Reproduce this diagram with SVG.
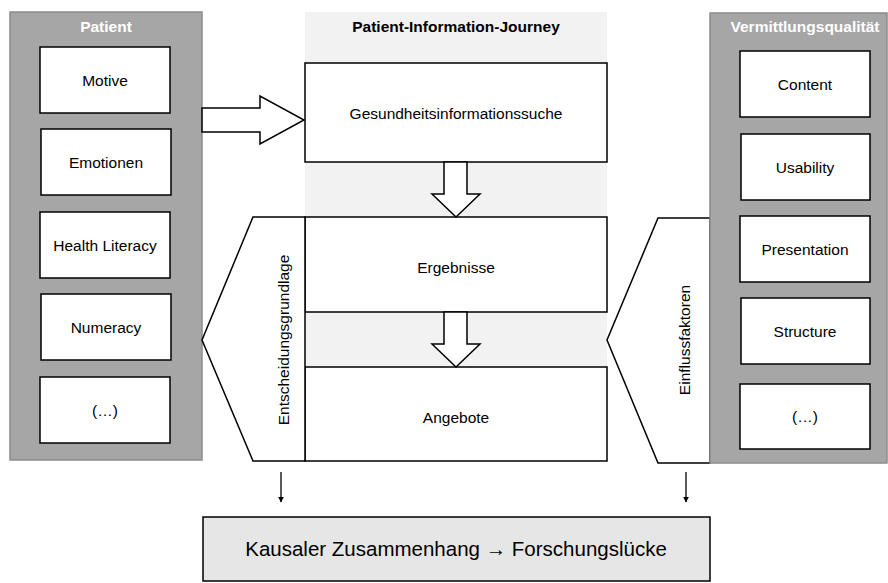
<svg xmlns="http://www.w3.org/2000/svg" width="888" height="583" viewBox="0 0 888 583">
  <defs>
    <style>
      .panel { fill: #a6a6a6; stroke: #8c8c8c; stroke-width: 1.5; }
      .box { fill: #ffffff; stroke: #000000; stroke-width: 1.5; }
      .band { fill: #f2f2f2; }
      .label { font-family: "Liberation Sans", Arial, sans-serif; font-size: 15.5px; fill: #000; text-anchor: middle; }
      .title { font-family: "Liberation Sans", Arial, sans-serif; font-size: 15.5px; font-weight: bold; text-anchor: middle; }
      .big { font-family: "Liberation Sans", Arial, sans-serif; font-size: 20.5px; fill: #000; text-anchor: middle; }
      .conn { fill: none; stroke: #000; stroke-width: 1.3; }
      .blockarrow { fill: #ffffff; stroke: #000; stroke-width: 1.5; stroke-linejoin: miter; }
    </style>
    <marker id="tip" viewBox="0 0 10 10" refX="9" refY="5" markerWidth="6" markerHeight="6" orient="auto" markerUnits="userSpaceOnUse">
      <path d="M0,0 L10,5 L0,10 z" fill="#000"/>
    </marker>
  </defs>

  <!-- background band behind the journey column -->
  <rect class="band" x="305" y="12" width="302" height="449"/>

  <!-- patient panel -->
  <g id="patient">
    <rect class="panel" x="10" y="12" width="192" height="448"/>
    <text class="title" x="106" y="32" fill="#ffffff">Patient</text>
    <g id="motive"><rect class="box" x="40" y="47" width="130" height="66"/><text class="label" x="105" y="86">Motive</text></g>
    <g id="emotionen"><rect class="box" x="41" y="129" width="130" height="66"/><text class="label" x="106" y="168">Emotionen</text></g>
    <g id="health-literacy"><rect class="box" x="40" y="212" width="130" height="66"/><text class="label" x="105" y="251">Health Literacy</text></g>
    <g id="numeracy"><rect class="box" x="41" y="294" width="130" height="66"/><text class="label" x="106" y="333">Numeracy</text></g>
    <g id="patient-more"><rect class="box" x="40" y="377" width="130" height="66"/><text class="label" x="105" y="416">(…)</text></g>
  </g>

  <!-- journey column -->
  <g id="journey">
    <text class="title" x="456" y="32" fill="#000000">Patient-Information-Journey</text>
    <g id="suche"><rect class="box" x="305" y="63" width="302" height="99"/><text class="label" x="456" y="119">Gesundheitsinformationssuche</text></g>
    <g id="ergebnisse"><rect class="box" x="305" y="217" width="302" height="95"/><text class="label" x="456" y="273">Ergebnisse</text></g>
    <g id="angebote"><rect class="box" x="305" y="367" width="302" height="94"/><text class="label" x="456" y="423">Angebote</text></g>
  </g>

  <!-- left chevron -->
  <g id="entscheidungsgrundlage">
    <polygon class="box" points="253,217 305,217 305,461 253,461 202,340"/>
    <text class="label" transform="translate(289,340) rotate(-90)">Entscheidungsgrundlage</text>
  </g>

  <!-- right chevron -->
  <g id="einflussfaktoren">
    <polygon class="box" points="658,218 710,218 710,463 658,463 607,340"/>
    <text class="label" transform="translate(690,340) rotate(-90)">Einflussfaktoren</text>
  </g>

  <!-- quality panel -->
  <g id="vermittlungsqualitaet">
    <rect class="panel" x="710" y="13" width="177" height="450"/>
    <text class="title" x="805" y="32" fill="#ffffff">Vermittlungsqualität</text>
    <g id="content"><rect class="box" x="740" y="51" width="130" height="66"/><text class="label" x="805" y="90">Content</text></g>
    <g id="usability"><rect class="box" x="741" y="134" width="129" height="66"/><text class="label" x="805" y="173">Usability</text></g>
    <g id="presentation"><rect class="box" x="740" y="216" width="130" height="66"/><text class="label" x="805" y="255">Presentation</text></g>
    <g id="structure"><rect class="box" x="741" y="298" width="129" height="66"/><text class="label" x="805" y="337">Structure</text></g>
    <g id="quality-more"><rect class="box" x="740" y="384" width="130" height="65"/><text class="label" x="805" y="422">(…)</text></g>
  </g>

  <!-- result box -->
  <g id="forschungsluecke">
    <rect x="203" y="517" width="507" height="64" fill="#e7e6e6" stroke="#000" stroke-width="1.5"/>
    <text class="big" x="456" y="556">Kausaler Zusammenhang → Forschungslücke</text>
  </g>

  <!-- connectors -->
  <g id="connectors">
    <polygon class="blockarrow" points="202,108 260,108 260,96 304,120 260,144 260,132 202,132"/>
    <polygon class="blockarrow" points="444,162 467,162 467,194 480,194 456,217 432,194 444,194"/>
    <polygon class="blockarrow" points="444,312 467,312 467,344 480,344 456,367 432,344 444,344"/>
    <line class="conn" x1="281" y1="472" x2="281" y2="502" marker-end="url(#tip)"/>
    <line class="conn" x1="686" y1="472" x2="686" y2="502" marker-end="url(#tip)"/>
  </g>
</svg>
